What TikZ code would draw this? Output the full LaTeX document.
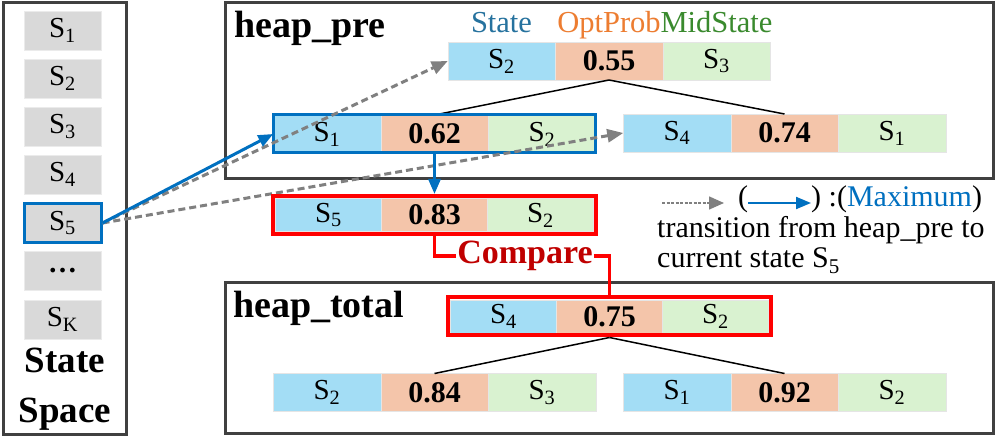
\documentclass[tikz,border=0pt]{standalone}
\usepackage{fontspec}
\setmainfont{Liberation Serif}
\usetikzlibrary{positioning, arrows.meta, fit}
\definecolor{cellblue}{HTML}{A3DDF5}
\definecolor{cellorange}{HTML}{F4C5AA}
\definecolor{cellgreen}{HTML}{D9F2D0}
\definecolor{cellgray}{HTML}{D9D9D9}
\definecolor{maxblue}{HTML}{0070C0}
\definecolor{labblue}{HTML}{26729E}
\definecolor{optorange}{HTML}{ED7D31}
\definecolor{midgreen}{HTML}{3A8A2E}
\definecolor{cmpred}{HTML}{C00000}
\definecolor{panelgray}{HTML}{404040}
\definecolor{dashgray}{HTML}{808080}
\tikzset{cellbox/.style={draw=black!10, thin, minimum width=107.5pt, minimum height=38pt,
                         inner sep=0pt, outer sep=0pt, font=\fontsize{29}{30}\selectfont},
         statecell/.style={cellbox, fill=cellblue},
         probcell/.style={cellbox, fill=cellorange, font=\fontsize{30}{30}\selectfont\bfseries},
         midcell/.style={cellbox, fill=cellgreen},
         redcell/.style={minimum width=106pt, minimum height=33pt},
         listcell/.style={draw=black!8, fill=cellgray, minimum width=77pt, minimum height=39pt,
                          inner sep=0pt, font=\fontsize{29}{30}\selectfont},
         panel/.style={draw=panelgray, line width=3pt},
         bigbold/.style={inner sep=0pt, font=\fontsize{38}{40}\selectfont\bfseries},
         colhead/.style={inner sep=0pt, anchor=base, font=\fontsize{30.5}{31}\selectfont},
         legendtext/.style={inner sep=0pt, anchor=base west, font=\fontsize{30}{31}\selectfont},
         dasharrow/.style={draw=dashgray, line width=3pt, dash pattern=on 7pt off 4pt,
                           -{Triangle[length=16pt,width=13pt]}},
         maxarrow/.style={draw=maxblue, line width=3pt, -{Triangle[length=15pt,width=12pt]}},
         treeline/.style={line width=1.5pt},
         redbox/.style={draw=red, line width=4pt, inner sep=2.5pt},
         maxbox/.style={draw=maxblue, line width=3pt, inner sep=0pt},
         cmpline/.style={draw=red, line width=3.5pt},
        }
\newcommand{\st}[1]{S\textsubscript{#1}}
% one heap entry: state | prob | mid state
\newcommand{\heapitem}[6][]{%
  \node[probcell,#1](#2-p)at(#3){#5};
  \node[statecell,#1,left=0pt of #2-p](#2-s){#4};
  \node[midcell,#1,right=0pt of #2-p](#2-m){#6};
}

\begin{document}
\begin{tikzpicture}[x=1pt,y=-1pt]
        \fill[white](0,0)rectangle(997,438);
        \useasboundingbox(0,0)rectangle(997,438);

        % state space
        \draw[panel](3,3)rectangle(126,435);
        \node[listcell](s1)at(62.5,30.5){\st{1}};
        \node[listcell](s2)at(62.5,78.5){\st{2}};
        \node[listcell](s3)at(62.5,126.5){\st{3}};
        \node[listcell](s4)at(62.5,174.5){\st{4}};
        \node[listcell, draw=maxblue, line width=3pt](s5)at(62.5,223){\st{5}};
        \node[listcell](sd)at(62.5,271){\textbf{…}};
        \node[listcell](sk)at(62.5,319.5){\st{K}};
        \node[bigbold, anchor=base, font=\fontsize{37}{40}\selectfont\bfseries](ssa)at(65,373){State};
        \node[bigbold, anchor=base, font=\fontsize{37}{40}\selectfont\bfseries](ssb)at(65,423){Space};

        % heap_pre
        \draw[panel](225,3)rectangle(993,179);
        \node[bigbold, anchor=base west](hpre)at(234,38){heap\_pre};
        \heapitem{pr0}{609,61}{\st{2}}{0.55}{\st{3}}
        \heapitem{pr1}{434.5,134}{\st{1}}{0.62}{\st{2}}
        \heapitem{pr2}{784.5,133}{\st{4}}{0.74}{\st{1}}
        \node[colhead, text=labblue](hst)at([yshift=9pt]pr0-s.north){State};
        \node[colhead, text=optorange](hpr)at([yshift=9pt]pr0-p.north){OptProb};
        \node[colhead, text=midgreen](hmd)at([yshift=9pt]pr0-m.north){MidState};

        \draw[treeline](pr0-p.south)--(pr1-p.north);
        \draw[treeline](pr0-p.south)--(pr2-p.north);
        \node[maxbox, fit=(pr1-s)(pr1-m)](maxsel){};

        \draw[dasharrow](s5.east)--(pr0-s.west);
        \draw[dasharrow](s5.east)--(pr2-s.west);
        \draw[maxarrow](s5.east)--(pr1-s.west);

        % current state
        \heapitem[redcell]{cur}{434.5,215}{\st{5}}{0.83}{\st{2}}
        \node[redbox, fit=(cur-s)(cur-m)](curbox){};
        \draw[maxarrow](maxsel.south)--(curbox.north);

        % legend
        \coordinate(lgdA)at(662,203);
        \coordinate(lgdB)at(724,203);
        \draw[draw=dashgray, line width=1.5pt, dash pattern=on 3pt off 1.5pt,
              -{Triangle[length=15pt,width=13pt]}](lgdA)--(lgdB);
        \node[legendtext](lgopen)at(738,207){(};
        \coordinate(lgmA)at(748,203);
        \coordinate(lgmB)at(811,203);
        \draw[draw=maxblue, line width=2pt, -{Triangle[length=15pt,width=12pt]}](lgmA)--(lgmB);
        \node[legendtext](lgclose)at(811,207){) :(\textcolor{maxblue}{Maximum})};
        \node[legendtext](lgtr1)at(657,238){transition from heap\_pre to};
        \node[legendtext](lgtr2)at(657,268){current state \st{5}};

        % heap_total
        \draw[panel](225,283)rectangle(993,434);
        \node[bigbold, anchor=base west](htot)at(233,318){heap\_total};
        \heapitem[redcell]{tot0}{609.5,316.5}{\st{4}}{0.75}{\st{2}}
        \node[redbox, fit=(tot0-s)(tot0-m)](totbox){};
        \heapitem{tot1}{434.5,392.5}{\st{2}}{0.84}{\st{3}}
        \heapitem{tot2}{784.5,392.5}{\st{1}}{0.92}{\st{2}}
        \draw[treeline](totbox.south)--(tot1-p.north);
        \draw[treeline](totbox.south)--(tot2-p.north);

        % compare
        \node[inner sep=1pt, text=cmpred, font=\fontsize{34}{36}\selectfont\bfseries](cmp)at(525,256){Compare};
        \draw[cmpline](curbox.south)|-(cmp.west);
        \draw[cmpline](cmp.east)-|(totbox.north);
    \end{tikzpicture}
\end{document}
